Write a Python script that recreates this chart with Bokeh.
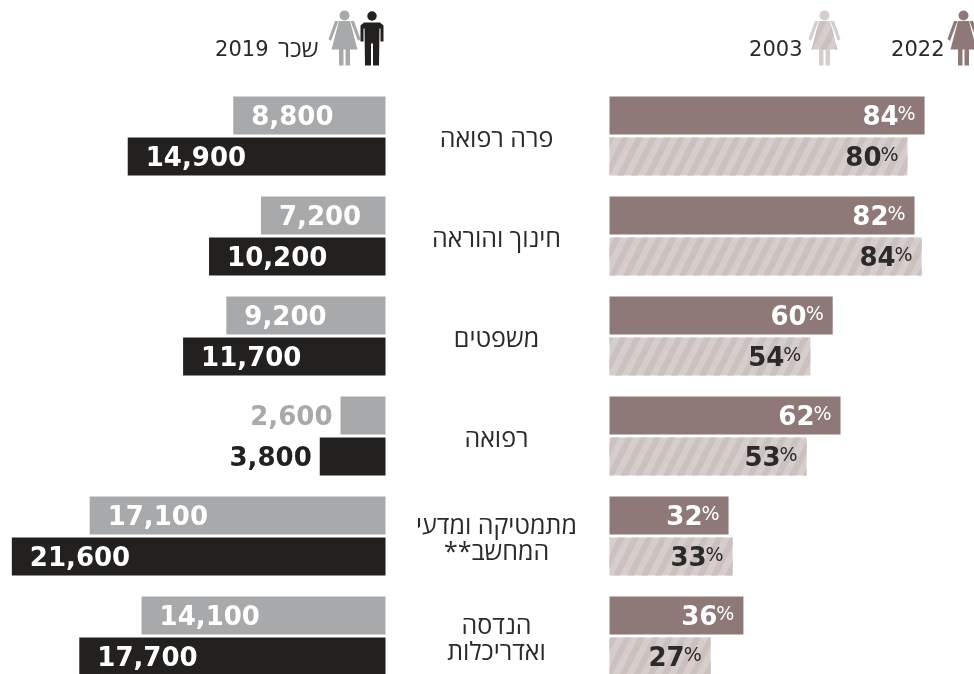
from bokeh.embed import file_html
from bokeh.resources import INLINE
from bokeh.plotting import figure
from bokeh.models import Range1d
from bokeh.core.properties import value
import numpy as np

categories = ["פרה רפואה", "חינוך והוראה", "משפטים", "רפואה", "מתמטיקה ומדעי\n**המחשב", "הנדסה\nואדריכלות"]
pct_2022 = [84.7, 82.0, 60.0, 62.1, 32.0, 36.0]
pct_2003 = [80.1, 83.9, 54.0, 53.0, 33.1, 27.2]
pct_2022_labels = ["84", "82", "60", "62", "32", "36"]
pct_2003_labels = ["80", "84", "54", "53", "33", "27"]
pay_women = [8800, 7200, 9200, 2600, 17100, 14100]
pay_men = [14900, 10200, 11700, 3800, 21600, 17700]
outside_label_below = 4000

C_W22 = "#8e7978"; C_W03 = "#d6cecc"; C_H03 = "#cbc1bf"
C_WOM = "#a8a9ab"; C_MEN = "#22211f"; C_TXT = "#2b2a29"
NUM_FONT = "DejaVu Sans"; HEB_FONT = "Open Sans"
HATCH = dict(hatch_pattern="right_diagonal_line", hatch_color=C_H03, hatch_weight=6, hatch_scale=28)

W, H = 974, 674
p = figure(width=W, height=H, x_range=Range1d(0, W), y_range=Range1d(H, 0),
           output_backend="svg", toolbar_location=None, min_border=0,
           x_axis_type=None, y_axis_type=None, outline_line_color=None,
           styles={"position": "fixed", "left": "0", "top": "0"})
p.grid.visible = False
PCT_ZERO, PCT_SCALE = 609, 3.72
PAY_ZERO, PAY_SCALE = 385, 0.0173
p.extra_x_ranges = {
    "pct": Range1d(-PCT_ZERO / PCT_SCALE, (W - PCT_ZERO) / PCT_SCALE),
    "pay": Range1d(PAY_ZERO / PAY_SCALE, (PAY_ZERO - W) / PAY_SCALE),
}
p.extra_y_ranges = {"row": Range1d((H - 135.5) / 100, -135.5 / 100)}

rows = np.arange(6)
top, bot = rows - 0.205, rows + 0.205
BH = 0.38

p.hbar(y=top, left=0, right=pct_2022, height=BH, color=C_W22, line_color=None,
       x_range_name="pct", y_range_name="row")
p.hbar(y=bot, left=0, right=pct_2003, height=BH, fill_color=C_W03, line_color=None,
       x_range_name="pct", y_range_name="row", **HATCH)
p.hbar(y=top, left=0, right=pay_women, height=BH, color=C_WOM, line_color=None,
       x_range_name="pay", y_range_name="row")
p.hbar(y=bot, left=0, right=pay_men, height=BH, color=C_MEN, line_color=None,
       x_range_name="pay", y_range_name="row")

def pct_text(vals, labels, y, color):
    p.text(x=vals, y=y, text=["%"] * 6, text_font=value(NUM_FONT), text_font_size="19px",
           text_color=color, text_align="right", text_baseline="middle", x_offset=-9, y_offset=-3,
           x_range_name="pct", y_range_name="row")
    p.text(x=vals, y=y, text=labels, text_font=value(NUM_FONT), text_font_style="bold",
           text_font_size="26px", text_color=color, text_align="right", text_baseline="middle",
           x_offset=-26, y_offset=-1, x_range_name="pct", y_range_name="row")

pct_text(pct_2022, pct_2022_labels, top, "#ffffff")
pct_text(pct_2003, pct_2003_labels, bot, C_TXT)

def pay_text(vals, y, in_color, out_color):
    inside = [v for v in vals if v >= outside_label_below]
    yi = [yy for v, yy in zip(vals, y) if v >= outside_label_below]
    outside = [v for v in vals if v < outside_label_below]
    yo = [yy for v, yy in zip(vals, y) if v < outside_label_below]
    p.text(x=inside, y=yi, text=[f"{v:,}" for v in inside], text_font=value(NUM_FONT),
           text_font_style="bold", text_font_size="26px", text_color=in_color,
           text_align="left", text_baseline="middle", x_offset=18, y_offset=-1,
           x_range_name="pay", y_range_name="row")
    p.text(x=outside, y=yo, text=[f"{v:,}" for v in outside], text_font=value(NUM_FONT),
           text_font_style="bold", text_font_size="26px", text_color=out_color,
           text_align="right", text_baseline="middle", x_offset=-8, y_offset=-1,
           x_range_name="pay", y_range_name="row")

pay_text(pay_women, top, "#ffffff", C_WOM)
pay_text(pay_men, bot, "#ffffff", C_MEN)

p.text(x=[496] * 6, y=rows + 0.01, text=categories, text_font=value(HEB_FONT), text_font_size="25px",
       text_color=C_TXT, text_align="center", text_baseline="middle", text_line_height=0.74,
       y_range_name="row")

# legend labels
p.text(x=[318], y=[47], text=["שכר"], text_font=value(HEB_FONT), text_font_size="24px",
       text_color=C_TXT, text_align="right", text_baseline="middle")
p.text(x=[268, 802, 944], y=[47, 47, 47], text=["2019", "2003", "2022"], text_font=value(NUM_FONT),
       text_font_size="21px", text_color=C_TXT, text_align="right", text_baseline="middle")

# pictograms (decoration), built on a local unit shape
W_DRESS_X = [-5.5, 5.5, 13, -13]
W_DRESS_Y = [20.5, 20.5, 49, 49]
W_ARM_X = [6, 9.5, 16, 13.5]
W_ARM_Y = [20.5, 20.5, 38.5, 40.5]
W_LEG_X = [1, 5.5, 5.5, 1]
W_LEG_Y = [48, 48, 65, 65]
M_BODY_X = [-8, 8, 11.5, 11.5, 8.5, 8.5, 7.5, 7, 1, 1, -1, -1, -7, -7.5, -8.5, -8.5, -11.5, -11.5]
M_BODY_Y = [22, 22, 25, 41, 41, 28, 28, 65, 65, 43, 43, 65, 65, 28, 28, 41, 41, 25]

def woman(cx, color, hatch=False):
    kw = HATCH if hatch else {}
    for sx in (1, -1):
        p.patch([cx + sx * v for v in W_ARM_X], W_ARM_Y, fill_color=color, line_color=None)
        p.patch([cx + sx * v for v in W_LEG_X], W_LEG_Y, fill_color=color, line_color=None)
    p.patch([cx + v for v in W_DRESS_X], W_DRESS_Y, fill_color=color, line_color=None, **kw)
    p.ellipse(x=[cx], y=[15], width=10, height=10, color=color, line_color=None)

def man(cx, color):
    p.patch([cx + v for v in M_BODY_X], M_BODY_Y, fill_color=color, line_color=None)
    p.ellipse(x=[cx], y=[15.5], width=9.5, height=9.5, color=color, line_color=None)

woman(344, C_WOM)
man(371.5, C_MEN)
woman(824, C_W03, hatch=True)
woman(963, C_W22)

open("out.html", "w").write(file_html(p, INLINE))
